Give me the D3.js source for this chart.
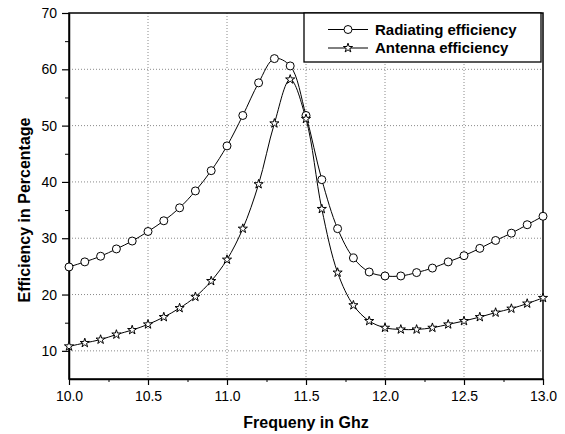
<!DOCTYPE html>
<html>
<head>
<meta charset="utf-8">
<script src="https://cdn.jsdelivr.net/npm/d3@7"></script>
<style>
  body { margin: 0; background: #fff; }
  svg { display: block; font-family: "Liberation Sans", Arial, sans-serif; }
</style>
</head>
<body>
<div id="chart"></div>
<script>
const freq = [
  10.0, 10.1, 10.2, 10.3, 10.4, 10.5, 10.6, 10.7, 10.8, 10.9,
  11.0, 11.1, 11.2, 11.3, 11.4, 11.5, 11.6, 11.7, 11.8, 11.9,
  12.0, 12.1, 12.2, 12.3, 12.4, 12.5, 12.6, 12.7, 12.8, 12.9, 13.0,
];
const radiating = [
  24.9, 25.8, 26.8, 28.1, 29.5, 31.2, 33.1, 35.4, 38.4, 42.0,
  46.4, 51.8, 57.6, 61.9, 60.6, 51.8, 40.4, 31.7, 26.5, 24.0,
  23.3, 23.3, 23.9, 24.7, 25.8, 26.9, 28.2, 29.6, 30.9, 32.4, 33.9,
];
const antenna = [
  10.8, 11.4, 12.0, 12.9, 13.7, 14.7, 16.0, 17.6, 19.6, 22.4,
  26.2, 31.7, 39.6, 50.4, 58.2, 51.2, 35.2, 23.9, 18.1, 15.3,
  14.1, 13.8, 13.8, 14.1, 14.7, 15.3, 16.0, 16.8, 17.5, 18.4, 19.4,
];
const xTicks = [10.0, 10.5, 11.0, 11.5, 12.0, 12.5, 13.0];
const xMinorTicks = [10.25, 10.75, 11.25, 11.75, 12.25, 12.75];
const yTicks = [10, 20, 30, 40, 50, 60, 70];
const yMinorTicks = [15, 25, 35, 45, 55, 65];
const seriesNames = ["Radiating efficiency", "Antenna efficiency"];

const totalWidth = 565;
const totalHeight = 434;
const margin = { top: 13, right: 22, bottom: 55, left: 69 };
const width = totalWidth - margin.left - margin.right;
const height = totalHeight - margin.top - margin.bottom;

const x = d3.scaleLinear().domain([10, 13]).range([0, width]);
const y = d3.scaleLinear().domain([5, 70]).range([height, 0]);

const svg = d3
  .select("#chart")
  .append("svg")
  .attr("width", totalWidth)
  .attr("height", totalHeight);

const g = svg
  .append("g")
  .attr("transform", `translate(${margin.left},${margin.top})`);

// dotted grid
g.append("g")
  .selectAll("line")
  .data(xTicks.slice(1, -1))
  .join("line")
  .attr("x1", (d) => x(d))
  .attr("x2", (d) => x(d))
  .attr("y1", 0)
  .attr("y2", height)
  .attr("stroke", "#8a8a8a")
  .attr("stroke-dasharray", "1,2");

g.append("g")
  .selectAll("line")
  .data(yTicks.slice(0, -1))
  .join("line")
  .attr("x1", 0)
  .attr("x2", width)
  .attr("y1", (d) => y(d))
  .attr("y2", (d) => y(d))
  .attr("stroke", "#8a8a8a")
  .attr("stroke-dasharray", "1,2");

// axes
const xAxisGroup = g
  .append("g")
  .attr("transform", `translate(0,${height})`)
  .call(
    d3.axisBottom(x)
      .tickValues(xTicks)
      .tickFormat(d3.format(".1f"))
      .tickSize(6)
      .tickPadding(6)
      .tickSizeOuter(0)
  );

g.append("g")
  .attr("transform", `translate(0,${height})`)
  .call(d3.axisBottom(x).tickValues(xMinorTicks).tickFormat("").tickSize(3).tickSizeOuter(0))
  .call((a) => a.select(".domain").remove());

const yAxisGroup = g
  .append("g")
  .call(
    d3.axisLeft(y)
      .tickValues(yTicks)
      .tickSize(7)
      .tickPadding(5)
      .tickSizeOuter(0)
  );

g.append("g")
  .call(d3.axisLeft(y).tickValues(yMinorTicks).tickFormat("").tickSize(4).tickSizeOuter(0))
  .call((a) => a.select(".domain").remove());

[xAxisGroup, yAxisGroup].forEach((a) => {
  a.selectAll("text")
    .attr("font-size", 14)
    .attr("font-family", "Liberation Sans, Arial, sans-serif")
    .attr("fill", "#000");
  a.selectAll("line").attr("stroke", "#000").attr("stroke-width", 1.2);
  a.select(".domain").attr("stroke-width", 1.5);
});

// frame top / right
g.append("rect")
  .attr("width", width)
  .attr("height", height)
  .attr("fill", "none")
  .attr("stroke", "#000")
  .attr("stroke-width", 1.5);

// curves
const line = d3
  .line()
  .x((d) => x(d[0]))
  .y((d) => y(d[1]))
  .curve(d3.curveCatmullRom.alpha(0.5));

const radPts = freq.map((f, i) => [f, radiating[i]]);
const antPts = freq.map((f, i) => [f, antenna[i]]);

[radPts, antPts].forEach((pts) => {
  g.append("path")
    .datum(pts)
    .attr("d", line)
    .attr("fill", "none")
    .attr("stroke", "#000")
    .attr("stroke-width", 1);
});

const star = d3.symbol().type(d3.symbolStar).size(26);

g.append("g")
  .selectAll("circle")
  .data(radPts)
  .join("circle")
  .attr("cx", (d) => x(d[0]))
  .attr("cy", (d) => y(d[1]))
  .attr("r", 4)
  .attr("fill", "#fff")
  .attr("stroke", "#000")
  .attr("stroke-width", 1);

g.append("g")
  .selectAll("path")
  .data(antPts)
  .join("path")
  .attr("transform", (d) => `translate(${x(d[0])},${y(d[1])})`)
  .attr("d", star)
  .attr("fill", "#fff")
  .attr("stroke", "#000")
  .attr("stroke-width", 1);

// axis titles
svg.append("text")
  .attr("x", margin.left + width / 2)
  .attr("y", 428)
  .attr("text-anchor", "middle")
  .attr("font-size", 16)
  .attr("font-weight", "bold")
  .text("Frequeny in Ghz");

svg.append("text")
  .attr("transform", "translate(30,210) rotate(-90)")
  .attr("text-anchor", "middle")
  .attr("font-size", 16)
  .attr("font-weight", "bold")
  .text("Efficiency in Percentage");

// legend
const legend = svg.append("g").attr("transform", "translate(304,13)");
legend.append("rect")
  .attr("width", 237)
  .attr("height", 49)
  .attr("fill", "#fff")
  .attr("stroke", "#000")
  .attr("stroke-width", 1.3);

const rows = legend
  .selectAll("g.row")
  .data(seriesNames)
  .join("g")
  .attr("class", "row")
  .attr("transform", (d, i) => `translate(0,${16.5 + i * 18.5})`);

rows.append("line")
  .attr("x1", 24)
  .attr("x2", 64)
  .attr("stroke", "#000")
  .attr("stroke-width", 1);

rows.filter((d, i) => i === 0)
  .append("circle")
  .attr("cx", 44)
  .attr("r", 4)
  .attr("fill", "#fff")
  .attr("stroke", "#000");

rows.filter((d, i) => i === 1)
  .append("path")
  .attr("transform", "translate(44,0)")
  .attr("d", star)
  .attr("fill", "#fff")
  .attr("stroke", "#000");

rows.append("text")
  .attr("x", 71)
  .attr("y", 5)
  .attr("font-size", 15)
  .attr("font-weight", "bold")
  .text((d) => d);
</script>
</body>
</html>
